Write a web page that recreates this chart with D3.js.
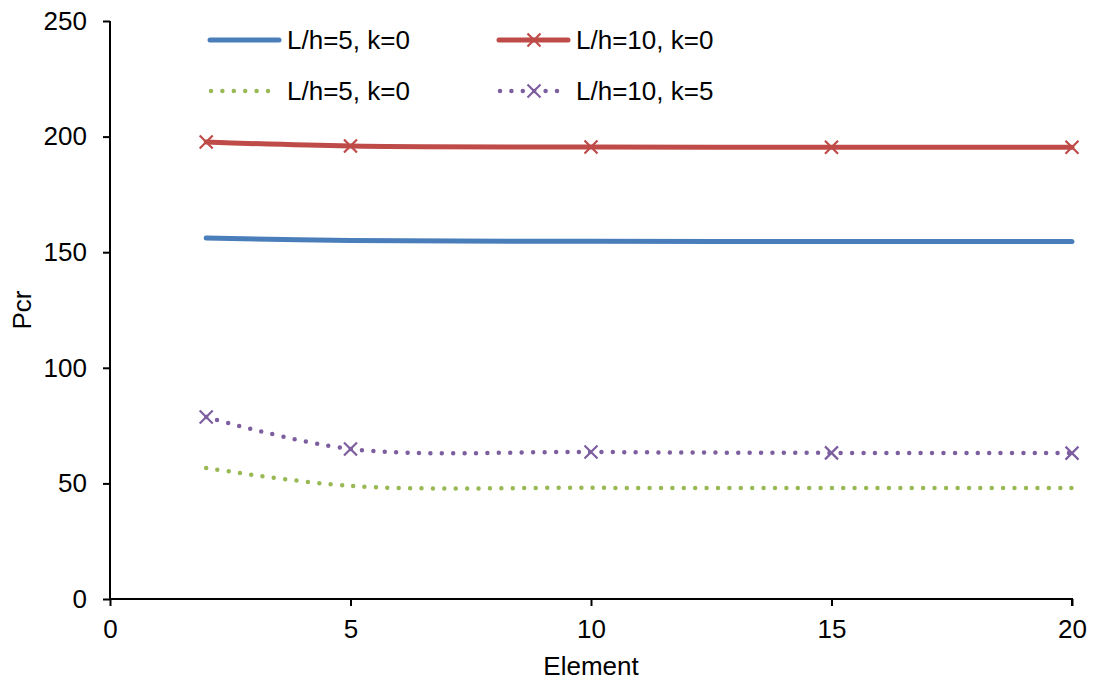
<!DOCTYPE html>
<html><head><meta charset="utf-8">
<script src="https://cdn.jsdelivr.net/npm/d3@7"></script>
<style>body{margin:0;background:#fff}svg text{font-family:"Liberation Sans",Arial,sans-serif;fill:#000}</style>
</head><body>
<svg id="c" width="1094" height="682"></svg>
<script>
const elements = [2, 5, 10, 15, 20];
const lh5k0 = [156.1, 155.1, 154.7, 154.6, 154.6];
const lh10k0 = [197.7, 195.9, 195.5, 195.4, 195.4];
const lh5k0b = [56.7, 48.9, 48.1, 48.0, 48.0];
const lh10k5 = [78.7, 64.9, 63.6, 63.2, 63.1];
const xTicks = [0, 5, 10, 15, 20];
const yTicks = [0, 50, 100, 150, 200, 250];
const seriesNames = ["L/h=5, k=0", "L/h=10, k=0", "L/h=5, k=0", "L/h=10, k=5"];

const svg = d3.select("#c");
const x = d3.scaleLinear().domain([0, 20]).range([110, 1072]);
const y = d3.scaleLinear().domain([0, 250]).range([599, 21]);
const fs = 26;

const series = [
  {name: seriesNames[0], vals: lh5k0, color: "#4A7EBB", dotted: false, marker: false},
  {name: seriesNames[1], vals: lh10k0, color: "#BE4B48", dotted: false, marker: true},
  {name: seriesNames[2], vals: lh5k0b, color: "#98B954", dotted: true, marker: false},
  {name: seriesNames[3], vals: lh10k5, color: "#7D5FA0", dotted: true, marker: true}
];

// axes
const xAxis = svg.append("g").attr("transform", "translate(0,599)")
  .call(d3.axisBottom(x).tickValues(xTicks).tickSize(7).tickPadding(14));
const yAxis = svg.append("g").attr("transform", "translate(110,0)")
  .call(d3.axisLeft(y).tickValues(yTicks).tickSize(7).tickPadding(16));
[xAxis, yAxis].forEach(a => {
  a.select(".domain").attr("stroke", "#000").attr("stroke-width", 2);
  a.selectAll(".tick line").attr("stroke", "#000").attr("stroke-width", 2);
  a.selectAll(".tick text").style("font-size", fs + "px").attr("font-family", null);
  a.attr("font-family", null).attr("font-size", null);
});
yAxis.select(".domain").attr("d", "M0,21V599");
xAxis.select(".domain").attr("d", "M110,0H1072V7");

svg.append("text").attr("x", x(10)).attr("y", 675).attr("text-anchor", "middle")
  .style("font-size", fs + "px").text("Element");
svg.append("text").attr("transform", "translate(31,310) rotate(-90)").attr("text-anchor", "middle")
  .style("font-size", fs + "px").text("Pcr");

const line = d3.line().x(d => x(d[0])).y(d => y(d[1])).curve(d3.curveCatmullRom.alpha(0.5));

function xMark(g, cx, cy, color) {
  const s = 6.5;
  g.append("path").attr("d", `M${cx - s},${cy - s}L${cx + s},${cy + s}M${cx - s},${cy + s}L${cx + s},${cy - s}`)
    .attr("stroke", color).attr("stroke-width", 2.2).attr("fill", "none");
}

series.forEach(s => {
  const pts = elements.map((e, i) => [e, s.vals[i]]);
  const p = svg.append("path").datum(pts).attr("d", line).attr("fill", "none")
    .attr("stroke", s.color).attr("stroke-linecap", "round").attr("stroke-width", s.dotted ? 4.5 : 5);
  if (s.dotted) p.attr("stroke-dasharray", "0,11.4");
  if (s.marker) pts.forEach(d => xMark(svg, x(d[0]), y(d[1]), s.color));
});

// legend
const legPos = [[210, 40], [499, 40], [210, 91], [499, 91]];
series.forEach((s, i) => {
  const [lx, ly] = legPos[i];
  const p = svg.append("line").attr("x1", lx).attr("x2", lx + 69).attr("y1", ly).attr("y2", ly)
    .attr("stroke", s.color).attr("stroke-linecap", "round").attr("stroke-width", s.dotted ? 4.5 : 5);
  if (s.dotted) p.attr("stroke-dasharray", "0,11.4").attr("x1", lx + 1);
  if (s.marker) xMark(svg, lx + 35, ly, s.color);
  svg.append("text").attr("x", lx + 77).attr("y", ly).attr("dy", "0.35em")
    .style("font-size", fs + "px").text(s.name);
});
</script>
</body></html>
